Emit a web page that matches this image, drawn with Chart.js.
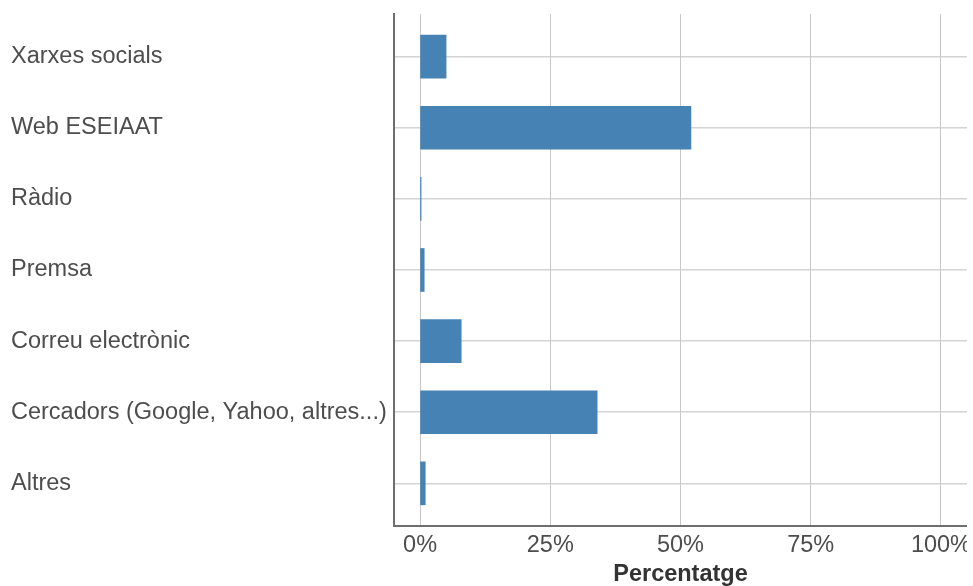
<!DOCTYPE html>
<html>
<head>
<meta charset="utf-8">
<script src="https://cdn.jsdelivr.net/npm/chart.js@4/dist/chart.umd.min.js"></script>
<style>
    body { margin: 0; background: #fff; }
    #wrap { width: 967px; height: 586px; }
</style>
</head>
<body>
<div id="wrap"><canvas id="mitjansChart"></canvas></div>
<script>
// Categories and values (percent)
let categories = ['Xarxes socials', 'Web ESEIAAT', 'Ràdio', 'Premsa', 'Correu electrònic', 'Cercadors (Google, Yahoo, altres...)', 'Altres'];
let percentages = [5, 52, 0.2, 0.8, 7.9, 34, 1];
let xTicks = [0, 25, 50, 75, 100];

let points = categories.map(function(c, i) {
    return { x: percentages[i], y: i };
});

let mitjansChartCtx = document.getElementById('mitjansChart').getContext('2d');

let mitjansChart = new Chart(mitjansChartCtx, {
    type: 'bar',
    data: {
        datasets: [{
            label: 'Percentatge',
            data: points,
            backgroundColor: '#4682b4',
            borderWidth: 0,
            barThickness: 43
        }]
    },
    options: {
        indexAxis: 'y',
        responsive: true,
        maintainAspectRatio: false,
        animation: false,
        layout: {
            padding: { left: 11, top: 14, right: 0, bottom: 0 }
        },
        plugins: {
            legend: { display: false },
            tooltip: { enabled: false }
        },
        scales: {
            y: {
                type: 'linear',
                reverse: true,
                offset: false,
                min: -0.6,
                max: 6.6,
                afterBuildTicks: function(scale) {
                    scale.ticks = categories.map(function(c, i) { return { value: i }; });
                },
                afterFit: function(scale) {
                    scale.width = 383;
                    scale.paddingTop = 0;
                    scale.paddingBottom = 0;
                },
                ticks: {
                    crossAlign: 'far',
                    color: '#4d4d4d',
                    padding: 6,
                    font: { family: 'Liberation Sans', size: 23.5 },
                    callback: function(value) {
                        return categories[value];
                    }
                },
                grid: {
                    offset: false,
                    color: '#d4d4d4',
                    lineWidth: 1.5,
                    drawTicks: false
                },
                border: {
                    color: '#6e6e6e',
                    width: 2
                }
            },
            x: {
                type: 'linear',
                min: -5,
                max: 105,
                afterBuildTicks: function(scale) {
                    scale.ticks = xTicks.map(function(v) { return { value: v }; });
                },
                afterFit: function(scale) {
                    scale.height = 60;
                    scale.paddingLeft = 0;
                    scale.paddingRight = 0;
                },
                ticks: {
                    color: '#4d4d4d',
                    padding: 5,
                    maxRotation: 0,
                    font: { family: 'Liberation Sans', size: 23.5 },
                    callback: function(value) {
                        return value + '%';
                    }
                },
                grid: {
                    color: '#c8c8c8',
                    lineWidth: 1,
                    drawTicks: false
                },
                border: {
                    color: '#6e6e6e',
                    width: 2
                },
                title: {
                    display: true,
                    text: 'Percentatge',
                    color: '#333333',
                    padding: { top: 4, bottom: -3 },
                    font: { family: 'Liberation Sans', size: 23.5, weight: 'bold' }
                }
            }
        }
    }
});
</script>
</body>
</html>
